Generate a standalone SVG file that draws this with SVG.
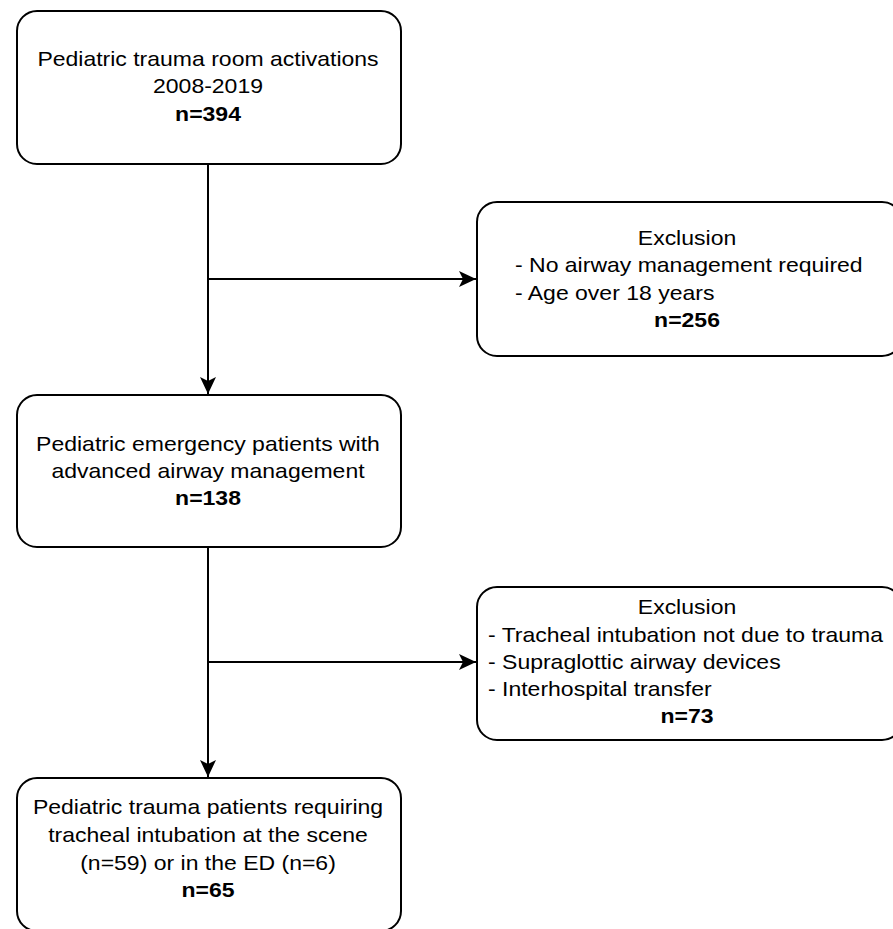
<svg xmlns="http://www.w3.org/2000/svg" width="893" height="929" viewBox="0 0 893 929">
<defs>
<style>
.box{fill:#fff;stroke:#000;stroke-width:2}
.t{font-family:"Liberation Sans",Arial,Helvetica,sans-serif;font-size:20px;fill:#000}
.c{text-anchor:middle}
.b{font-weight:bold}
.ln{fill:none;stroke:#000;stroke-width:2}
</style>
<marker id="arr" viewBox="0 0 18 18" refX="17" refY="9" markerWidth="18" markerHeight="18" markerUnits="userSpaceOnUse" orient="auto">
<path d="M17,9 L0,1 L4,9 L0,17 Z" fill="#000"/>
</marker>
</defs>
<rect width="893" height="929" fill="#fff"/>
<g id="connectors">
<line class="ln" x1="208" y1="164" x2="208" y2="394" marker-end="url(#arr)"/>
<line class="ln" x1="208" y1="279" x2="476" y2="279" marker-end="url(#arr)"/>
<line class="ln" x1="208" y1="547" x2="208" y2="777" marker-end="url(#arr)"/>
<line class="ln" x1="208" y1="662" x2="476" y2="662" marker-end="url(#arr)"/>
</g>
<g id="n1">
<rect class="box" x="17" y="11" width="384" height="153" rx="20"/>
<text class="t c" transform="translate(208,66) scale(1.15,1)">Pediatric trauma room activations</text>
<text class="t c" transform="translate(208,93) scale(1.15,1)">2008-2019</text>
<text class="t c b" transform="translate(208,121) scale(1.15,1)">n=394</text>
</g>
<g id="n2">
<rect class="box" x="477" y="202" width="425" height="154" rx="20"/>
<text class="t c" transform="translate(687,245) scale(1.15,1)">Exclusion</text>
<text class="t" transform="translate(515,272) scale(1.15,1)">- No airway management required</text>
<text class="t" transform="translate(515,300) scale(1.15,1)">- Age over 18 years</text>
<text class="t c b" transform="translate(687,327) scale(1.15,1)">n=256</text>
</g>
<g id="n3">
<rect class="box" x="17" y="395" width="384" height="152" rx="20"/>
<text class="t c" transform="translate(208,451) scale(1.15,1)">Pediatric emergency patients with</text>
<text class="t c" transform="translate(208,478) scale(1.15,1)">advanced airway management</text>
<text class="t c b" transform="translate(208,505) scale(1.15,1)">n=138</text>
</g>
<g id="n4">
<rect class="box" x="477" y="587" width="425" height="153" rx="20"/>
<text class="t c" transform="translate(687,614) scale(1.15,1)">Exclusion</text>
<text class="t" transform="translate(488,642) scale(1.15,1)">- Tracheal intubation not due to trauma</text>
<text class="t" transform="translate(488,669) scale(1.15,1)">- Supraglottic airway devices</text>
<text class="t" transform="translate(488,696) scale(1.15,1)">- Interhospital transfer</text>
<text class="t c b" transform="translate(687,723) scale(1.15,1)">n=73</text>
</g>
<g id="n5">
<rect class="box" x="17" y="778" width="384" height="153" rx="20"/>
<text class="t c" transform="translate(208,814) scale(1.15,1)">Pediatric trauma patients requiring</text>
<text class="t c" transform="translate(208,842) scale(1.15,1)">tracheal intubation at the scene</text>
<text class="t c" transform="translate(208,870) scale(1.15,1)">(n=59) or in the ED (n=6)</text>
<text class="t c b" transform="translate(208,897) scale(1.15,1)">n=65</text>
</g>
</svg>
